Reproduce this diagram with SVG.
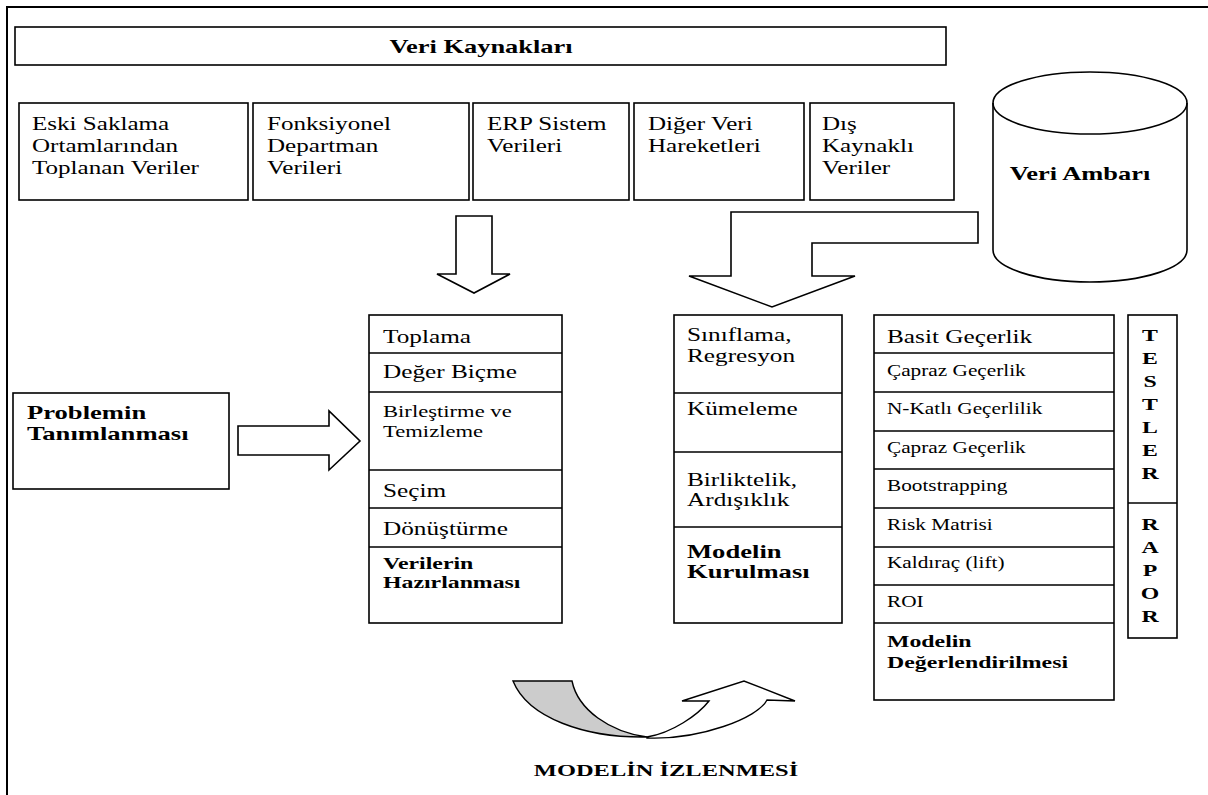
<svg xmlns="http://www.w3.org/2000/svg" width="1208" height="795" viewBox="0 0 1208 795">
<style>
.bx{fill:#fff;stroke:#000;stroke-width:1.6}
.ln{fill:none;stroke:#000;stroke-width:1.6}
.ar{fill:#fff;stroke:#000;stroke-width:1.6;stroke-linejoin:miter}
text{font-family:"Liberation Serif","Times New Roman",serif;fill:#000}
.r{font-size:19px}
.s{font-size:16px}
.m{font-size:17px}
.bd{font-weight:bold}
</style>
<rect width="1208" height="795" fill="#fff"/>
<path d="M7,795 V7 H1208" fill="none" stroke="#000" stroke-width="2"/>

<g id="veri-kaynaklari">
<rect class="bx" x="15" y="27" width="931" height="38"/>
<text class="r bd" text-anchor="middle" transform="translate(481 53) scale(1.39 1)">Veri Kaynakları</text>
</g>

<g id="src-eski">
<rect class="bx" x="19" y="103" width="229" height="97"/>
<text class="r" transform="translate(32 130) scale(1.32 1)">Eski Saklama</text>
<text class="r" transform="translate(32 152) scale(1.32 1)">Ortamlarından</text>
<text class="r" transform="translate(32 174) scale(1.32 1)">Toplanan Veriler</text>
</g>
<g id="src-fonksiyonel">
<rect class="bx" x="253" y="103" width="216" height="97"/>
<text class="r" transform="translate(267 130) scale(1.32 1)">Fonksiyonel</text>
<text class="r" transform="translate(267 152) scale(1.32 1)">Departman</text>
<text class="r" transform="translate(267 174) scale(1.32 1)">Verileri</text>
</g>
<g id="src-erp">
<rect class="bx" x="473" y="103" width="156" height="97"/>
<text class="r" transform="translate(487 130) scale(1.32 1)">ERP Sistem</text>
<text class="r" transform="translate(487 152) scale(1.32 1)">Verileri</text>
</g>
<g id="src-diger">
<rect class="bx" x="634" y="103" width="170" height="97"/>
<text class="r" transform="translate(648 130) scale(1.32 1)">Diğer Veri</text>
<text class="r" transform="translate(648 152) scale(1.32 1)">Hareketleri</text>
</g>
<g id="src-dis">
<rect class="bx" x="810" y="103" width="144" height="97"/>
<text class="r" transform="translate(822 130) scale(1.32 1)">Dış</text>
<text class="r" transform="translate(822 152) scale(1.32 1)">Kaynaklı</text>
<text class="r" transform="translate(822 174) scale(1.32 1)">Veriler</text>
</g>

<g id="veri-ambari">
<path class="bx" d="M993,103 A97,31 0 0 1 1187,103 V250 A97,32 0 0 1 993,250 Z"/>
<path class="ln" d="M993,103 A97,31 0 0 0 1187,103"/>
<text class="r bd" text-anchor="middle" transform="translate(1080 180) scale(1.39 1)">Veri Ambarı</text>
</g>

<g id="problemin">
<rect class="bx" x="13" y="393" width="216" height="96"/>
<text class="r bd" transform="translate(27 419) scale(1.4 1)">Problemin</text>
<text class="r bd" transform="translate(27 440) scale(1.4 1)">Tanımlanması</text>
</g>

<g id="verilerin-hazirlanmasi">
<rect class="bx" x="369" y="315" width="193" height="308"/>
<path class="ln" d="M369,353 H562 M369,392 H562 M369,470 H562 M369,508 H562 M369,547 H562"/>
<text class="r" transform="translate(383 343) scale(1.33 1)">Toplama</text>
<text class="r" transform="translate(383 378) scale(1.33 1)">Değer Biçme</text>
<text class="m" transform="translate(383 417) scale(1.33 1)">Birleştirme ve</text>
<text class="m" transform="translate(383 437) scale(1.33 1)">Temizleme</text>
<text class="r" transform="translate(383 497) scale(1.33 1)">Seçim</text>
<text class="r" transform="translate(383 535) scale(1.33 1)">Dönüştürme</text>
<text class="m bd" transform="translate(383 569) scale(1.4 1)">Verilerin</text>
<text class="m bd" transform="translate(383 588) scale(1.4 1)">Hazırlanması</text>
</g>

<g id="modelin-kurulmasi">
<rect class="bx" x="674" y="315" width="168" height="308"/>
<path class="ln" d="M674,393 H842 M674,452 H842 M674,527 H842"/>
<text class="r" transform="translate(687 341) scale(1.33 1)">Sınıflama,</text>
<text class="r" transform="translate(687 362) scale(1.33 1)">Regresyon</text>
<text class="r" transform="translate(687 415) scale(1.33 1)">Kümeleme</text>
<text class="r" transform="translate(687 486) scale(1.33 1)">Birliktelik,</text>
<text class="r" transform="translate(687 506) scale(1.33 1)">Ardışıklık</text>
<text class="r bd" transform="translate(687 558) scale(1.4 1)">Modelin</text>
<text class="r bd" transform="translate(687 578) scale(1.4 1)">Kurulması</text>
</g>

<g id="modelin-degerlendirilmesi">
<rect class="bx" x="874" y="315" width="240" height="385"/>
<path class="ln" d="M874,353 H1114 M874,392 H1114 M874,431 H1114 M874,469 H1114 M874,508 H1114 M874,547 H1114 M874,585 H1114 M874,623 H1114"/>
<text class="r" transform="translate(887 343) scale(1.33 1)">Basit Geçerlik</text>
<text class="s" transform="translate(887 376) scale(1.33 1)">Çapraz Geçerlik</text>
<text class="s" transform="translate(887 414) scale(1.33 1)">N-Katlı Geçerlilik</text>
<text class="s" transform="translate(887 453) scale(1.33 1)">Çapraz Geçerlik</text>
<text class="s" transform="translate(887 491) scale(1.33 1)">Bootstrapping</text>
<text class="s" transform="translate(887 530) scale(1.33 1)">Risk Matrisi</text>
<text class="s" transform="translate(887 568) scale(1.33 1)">Kaldıraç (lift)</text>
<text class="s" transform="translate(887 607) scale(1.33 1)">ROI</text>
<text class="m bd" transform="translate(887 647) scale(1.4 1)">Modelin</text>
<text class="m bd" transform="translate(887 668) scale(1.4 1)">Değerlendirilmesi</text>
</g>

<g id="testler-rapor">
<rect class="bx" x="1128" y="315" width="49" height="323"/>
<path class="ln" d="M1128,503 H1177"/>
<g class="m bd" text-anchor="middle">
<text class="m bd" transform="translate(1150 341) scale(1.4 1)">T</text>
<text class="m bd" transform="translate(1150 364) scale(1.4 1)">E</text>
<text class="m bd" transform="translate(1150 387) scale(1.4 1)">S</text>
<text class="m bd" transform="translate(1150 410) scale(1.4 1)">T</text>
<text class="m bd" transform="translate(1150 433) scale(1.4 1)">L</text>
<text class="m bd" transform="translate(1150 456) scale(1.4 1)">E</text>
<text class="m bd" transform="translate(1150 479) scale(1.4 1)">R</text>
<text class="m bd" transform="translate(1150 530) scale(1.4 1)">R</text>
<text class="m bd" transform="translate(1150 553) scale(1.4 1)">A</text>
<text class="m bd" transform="translate(1150 576) scale(1.4 1)">P</text>
<text class="m bd" transform="translate(1150 599) scale(1.4 1)">O</text>
<text class="m bd" transform="translate(1150 622) scale(1.4 1)">R</text>
</g>
</g>

<g id="connectors">
<polygon class="ar" points="456,216 492,216 492,274 510,274 474,293 437,274 456,274"/>
<polygon class="ar" points="731,212 978,212 978,243 812,243 812,276 855,276 772,307 689,276 731,276"/>
<polygon class="ar" points="238,426 329,426 329,411 360,441 329,470 329,455 238,455"/>
<g id="modelin-izlenmesi-arrow">
<path d="M513,681 L572,681 C578,710 610,732 647,737 C585,738 528,718 513,681 Z" fill="#cccccc" stroke="#000" stroke-width="1.4"/>
<path d="M647,737 C672,733 698,715 709,701 L682,701 L744,681 L795,701 L767,700 C758,718 700,740 647,738 Z" fill="#fff" stroke="#000" stroke-width="1.4"/>
</g>
</g>

<g id="modelin-izlenmesi">
<text class="m bd" text-anchor="middle" transform="translate(666 776) scale(1.44 1)">MODELİN İZLENMESİ</text>
</g>
</svg>
